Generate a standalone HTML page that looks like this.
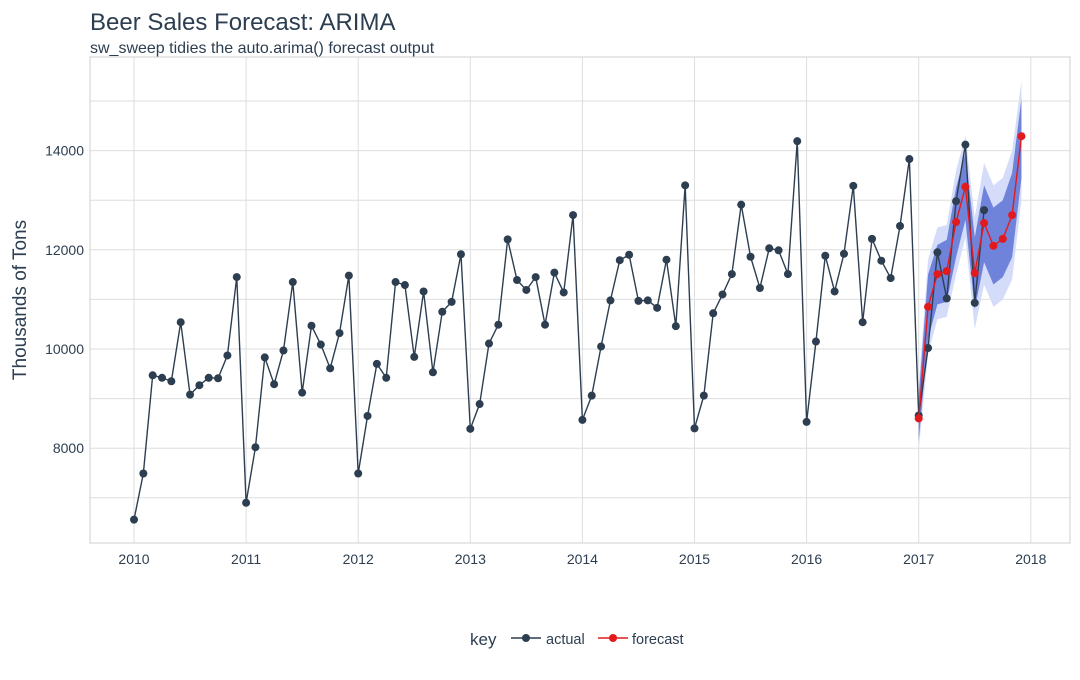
<!DOCTYPE html>
<html><head><meta charset="utf-8"><style>
body{margin:0;background:#fff;font-family:"Liberation Sans",sans-serif;}
svg text{font-family:"Liberation Sans",sans-serif;}
</style></head><body>
<svg id="c" width="1080" height="675" xmlns="http://www.w3.org/2000/svg">
<text x="90" y="30" font-size="24" fill="#2c3e50">Beer Sales Forecast: ARIMA</text>
<text x="90" y="53" font-size="16" fill="#2c3e50">sw_sweep tidies the auto.arima() forecast output</text>
<text transform="translate(26,300) rotate(-90)" text-anchor="middle" font-size="19" fill="#2c3e50">Thousands of Tons</text>
<g id="grid"></g><g id="bands"></g><g id="lines"></g>
<rect x="90" y="57" width="980" height="486" fill="none" stroke="#cfcfcf"/>
<g>
<text x="470" y="645" font-size="17" fill="#2c3e50">key</text>
<line x1="511" y1="638" x2="541" y2="638" stroke="#2c3e50" stroke-width="1.5"/><circle cx="526" cy="638" r="4" fill="#2c3e50"/>
<text x="546" y="644" font-size="14.5" fill="#2c3e50">actual</text>
<line x1="598" y1="638" x2="628" y2="638" stroke="#e31a1c" stroke-width="1.5"/><circle cx="613" cy="638" r="4" fill="#e31a1c"/>
<text x="632" y="644" font-size="14.5" fill="#2c3e50">forecast</text>
</g>
</svg>
<script>
const actual=[6560,7490,9470,9420,9350,10540,9080,9270,9420,9410,9870,11450,
6900,8020,9830,9290,9970,11350,9120,10470,10090,9610,10320,11480,
7490,8650,9700,9420,11350,11290,9840,11160,9530,10750,10950,11910,
8390,8890,10110,10490,12210,11390,11190,11450,10490,11540,11140,12700,
8570,9060,10050,10980,11790,11900,10970,10980,10830,11800,10460,13300,
8400,9060,10720,11100,11510,12910,11860,11230,12030,11990,11510,14190,
8530,10150,11880,11160,11920,13290,10540,12220,11780,11430,12480,13830,
8660,10020,11950,11020,12980,14120,10930,12800];
const forecast=[8600,10850,11510,11570,12560,13270,11530,12540,12080,12220,12700,14290];
const lo95=[7960,9900,10600,10650,11500,12250,10400,11300,10850,11000,11400,13000];
const lo80=[8150,10200,10900,10950,11850,12600,10800,11750,11300,11450,11850,13450];
const hi80=[9050,11500,12100,12200,13250,13950,12250,13300,12850,13000,13550,15050];
const hi95=[9250,11800,12450,12500,13600,14300,12650,13750,13300,13450,14000,15400];
const xTicks=[2010,2011,2012,2013,2014,2015,2016,2017,2018];
const yTicks=[8000,10000,12000,14000];
const yMinor=[7000,9000,11000,13000,15000];
const NS='http://www.w3.org/2000/svg';
const X=t=>134+(t-2010)*112.1;
const Y=v=>349-(v-10000)*0.0496;
function mk(tag,at,parent){const e=document.createElementNS(NS,tag);for(const k in at)e.setAttribute(k,at[k]);document.getElementById(parent).appendChild(e);return e;}
yMinor.concat(yTicks).forEach(v=>{const l=mk('line',{x1:90,x2:1070,y1:Y(v),y2:Y(v),stroke:'#dedede','stroke-width':1},'grid');

});
yTicks.forEach(v=>{const t=mk('text',{x:84,y:Y(v)+5,'text-anchor':'end','font-size':14,fill:'#2c3e50'},'grid');t.textContent=v;

});
xTicks.forEach(v=>{const l=mk('line',{x1:X(v),x2:X(v),y1:57,y2:543,stroke:'#dedede','stroke-width':1},'grid');


const t=mk('text',{x:X(v),y:564,'text-anchor':'middle','font-size':14,fill:'#2c3e50'},'grid');t.textContent=v;

});
const fx=i=>X(2017+i/12);
function band(lo,hi,col,name){let d='';hi.forEach((v,i)=>d+=(i?'L':'M')+fx(i)+','+Y(v));for(let i=lo.length-1;i>=0;i--)d+='L'+fx(i)+','+Y(lo[i]);
const p=mk('path',{d:d+'Z',fill:col},'bands');

}
band(lo95,hi95,'#d4dcf9','band-95');
band(lo80,hi80,'#6f83db','band-80');
function series(vals,xf,col,name){const pts=vals.map((v,i)=>xf(i)+','+Y(v)).join(' ');
const pl=mk('polyline',{points:pts,fill:'none',stroke:col,'stroke-width':1.4},'lines');


vals.forEach((v,i)=>{const c=mk('circle',{cx:xf(i),cy:Y(v),r:4,fill:col},'lines');

});}
series(actual,i=>X(2010+i/12),'#2c3e50','actual');
series(forecast,fx,'#e31a1c','forecast');
</script>
</body></html>
